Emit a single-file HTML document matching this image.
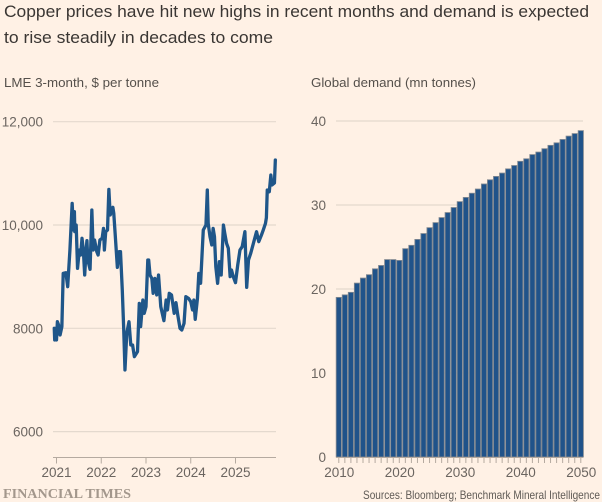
<!DOCTYPE html>
<html lang="en">
<head>
<meta charset="utf-8">
<title>Copper prices chart</title>
<style>
html,body{margin:0;padding:0;background:#fff1e5;}
body{width:602px;height:502px;overflow:hidden;}
svg{display:block;}
text{font-family:"Liberation Sans",sans-serif;}
</style>
</head>
<body>
<svg id="chart" width="602" height="502" viewBox="0 0 602 502" xmlns="http://www.w3.org/2000/svg">
  <rect x="0" y="0" width="602" height="502" fill="#fff1e5"/>
  <text x="4" y="17" font-size="17" fill="#3a3633" textLength="585" lengthAdjust="spacingAndGlyphs">Copper prices have hit new highs in recent months and demand is expected</text>
  <text x="4" y="43" font-size="17" fill="#3a3633" textLength="269" lengthAdjust="spacingAndGlyphs">to rise steadily in decades to come</text>
  <text x="4" y="87" font-size="13" fill="#55504b" textLength="155" lengthAdjust="spacingAndGlyphs">LME 3-month, $ per tonne</text>
  <text x="311" y="87" font-size="13" fill="#55504b" textLength="165" lengthAdjust="spacingAndGlyphs">Global demand (mn tonnes)</text>
  <g id="left-panel"></g>
  <g id="right-panel"></g>
  <text x="3" y="498" font-size="14" font-weight="bold" fill="#a3978c" style="font-family:'Liberation Serif',serif" textLength="128" lengthAdjust="spacingAndGlyphs">FINANCIAL TIMES</text>
  <text x="363" y="499" font-size="12" fill="#5f5a55" textLength="237" lengthAdjust="spacingAndGlyphs">Sources: Bloomberg; Benchmark Mineral Intelligence</text>
</svg>
<script>
const priceDates = [2020.95,2020.96,2020.98,2021.00,2021.02,2021.06,2021.08,2021.12,2021.15,2021.21,2021.25,2021.30,2021.35,2021.38,2021.40,2021.41,2021.44,2021.47,2021.51,2021.54,2021.57,2021.60,2021.63,2021.66,2021.68,2021.70,2021.75,2021.79,2021.82,2021.85,2021.90,2021.93,2021.97,2022.02,2022.05,2022.07,2022.10,2022.14,2022.17,2022.20,2022.26,2022.28,2022.31,2022.36,2022.40,2022.43,2022.47,2022.50,2022.53,2022.57,2022.62,2022.66,2022.70,2022.74,2022.81,2022.85,2022.88,2022.93,2022.96,2023.00,2023.04,2023.06,2023.09,2023.13,2023.16,2023.20,2023.24,2023.28,2023.33,2023.40,2023.45,2023.48,2023.52,2023.57,2023.63,2023.67,2023.71,2023.76,2023.80,2023.85,2023.89,2023.95,2024.00,2024.04,2024.07,2024.10,2024.15,2024.18,2024.22,2024.25,2024.28,2024.34,2024.37,2024.39,2024.43,2024.47,2024.50,2024.53,2024.56,2024.60,2024.64,2024.68,2024.73,2024.76,2024.80,2024.84,2024.88,2024.91,2024.95,2025.00,2025.05,2025.10,2025.15,2025.21,2025.25,2025.29,2025.34,2025.40,2025.47,2025.52,2025.58,2025.62,2025.67,2025.69,2025.71,2025.755,2025.79,2025.815,2025.87,2025.89];
const priceValues = [8000,7774,8000,7774,8128,8032,7870,8032,9064,9077,8806,9516,10419,9903,10258,9871,10000,9161,9516,9419,9742,9516,9032,9484,9697,9322,9142,10290,9516,9710,9484,9419,9710,9742,9935,9516,9871,9903,10690,10193,10342,10226,9839,9180,9484,9484,8742,8032,7193,7903,8128,7677,7677,7451,7548,8483,8032,8548,8290,8419,9322,9322,9032,8967,8677,8967,8645,9032,8419,8148,8548,8355,8677,8645,8290,8496,8258,8000,7967,8096,8613,8580,8516,8355,8548,8174,8580,9064,8871,9387,9903,10000,10677,10032,9774,9613,9935,9774,9193,8871,9290,9032,10000,9839,9645,9548,9000,9129,9000,8884,9226,9516,9580,9871,8793,9322,9452,9645,9871,9677,9806,9903,10032,10140,10678,10645,10968,10774,10813,11258];
const priceTicks = [6000,8000,10000,12000];
const priceTickLabels = ["6000","8000","10,000","12,000"];
const yearTicks = [2021,2022,2023,2024,2025];

const demandYears = [2010,2011,2012,2013,2014,2015,2016,2017,2018,2019,2020,2021,2022,2023,2024,2025,2026,2027,2028,2029,2030,2031,2032,2033,2034,2035,2036,2037,2038,2039,2040,2041,2042,2043,2044,2045,2046,2047,2048,2049,2050];
const demandValues = [19.0,19.3,19.6,20.7,21.3,21.7,22.4,22.8,23.5,23.5,23.4,24.8,25.2,25.9,26.6,27.3,27.9,28.5,29.1,29.7,30.4,30.9,31.4,31.9,32.5,33.0,33.4,33.8,34.3,34.7,35.2,35.5,36.0,36.3,36.7,37.1,37.4,37.8,38.2,38.5,38.85];
const demandTicks = [0,10,20,30,40];
const demandYearLabels = [2010,2020,2030,2040,2050];

const NS = "http://www.w3.org/2000/svg";
const GRID = "#e4d9ce", AXIS = "#b5aaa0", LABEL = "#6b6560";
const LINE_COLOR = "#1f5689", BAR_COLOR = "#20538a";

function priceX(d){ return 56.5 + (d - 2021) * 44.75; }
function priceY(v){ return 225 - (v - 10000) * 103.3 / 2000; }
function demandX(y){ return 338.8 + (y - 2010) * 6.05; }
function demandY(v){ return 457 - v * 8.4; }

function make(tag, attrs, parent, txt){
  const el = document.createElementNS(NS, tag);
  for (const k in attrs) el.setAttribute(k, attrs[k]);
  if (txt !== undefined) el.textContent = txt;
  parent.appendChild(el);
  return el;
}

const left = document.getElementById("left-panel");
const right = document.getElementById("right-panel");

priceTicks.forEach(function(t, i){
  const g = make("line", {x1:53, x2:276, y1:priceY(t), y2:priceY(t), stroke:GRID, "stroke-width":1.2}, left);
  
  
  const l = make("text", {x:43, y:priceY(t)+5, "text-anchor":"end", "font-size":13.5, fill:LABEL}, left, priceTickLabels[i]);
  
  
});

const leftAxis = make("line", {x1:53, x2:276, y1:457.5, y2:457.5, stroke:AXIS, "stroke-width":1}, left);



yearTicks.forEach(function(y){
  const t = make("line", {x1:priceX(y), x2:priceX(y), y1:457.5, y2:463.5, stroke:AXIS, "stroke-width":1}, left);
  
  
  const l = make("text", {x:priceX(y), y:477, "text-anchor":"middle", "font-size":13.5, fill:LABEL}, left, String(y));
  
  
});

const pts = priceDates.map(function(d, i){ return priceX(d).toFixed(2) + "," + priceY(priceValues[i]).toFixed(2); }).join(" ");
const priceLine = make("polyline", {points:pts, fill:"none", stroke:LINE_COLOR, "stroke-width":3.3, "stroke-linejoin":"round", "stroke-linecap":"round"}, left);



demandTicks.forEach(function(t){
  if (t !== 0) {
    const g = make("line", {x1:336, x2:583, y1:demandY(t), y2:demandY(t), stroke:GRID, "stroke-width":1.2}, right);
    
    
  }
  const l = make("text", {x:326, y:demandY(t)+5, "text-anchor":"end", "font-size":13.5, fill:LABEL}, right, String(t));
  
  
});

demandYears.forEach(function(y, i){
  const tick = make("line", {x1:demandX(y), x2:demandX(y), y1:457.5, y2:463, stroke:AXIS, "stroke-width":1}, right);
  
  
  const top = demandY(demandValues[i]);
  const b = make("rect", {x:demandX(y)-2.6, y:top, width:5.2, height:457-top, fill:BAR_COLOR, stroke:"#7f8790", "stroke-width":0.85}, right);
  
  
});

const rightAxis = make("line", {x1:336, x2:583, y1:457.5, y2:457.5, stroke:AXIS, "stroke-width":1}, right);



demandYearLabels.forEach(function(y){
  const l = make("text", {x:demandX(y)+0.5, y:477, "text-anchor":"middle", "font-size":13.5, fill:LABEL}, right, String(y));
  
  
});
</script>
</body>
</html>
